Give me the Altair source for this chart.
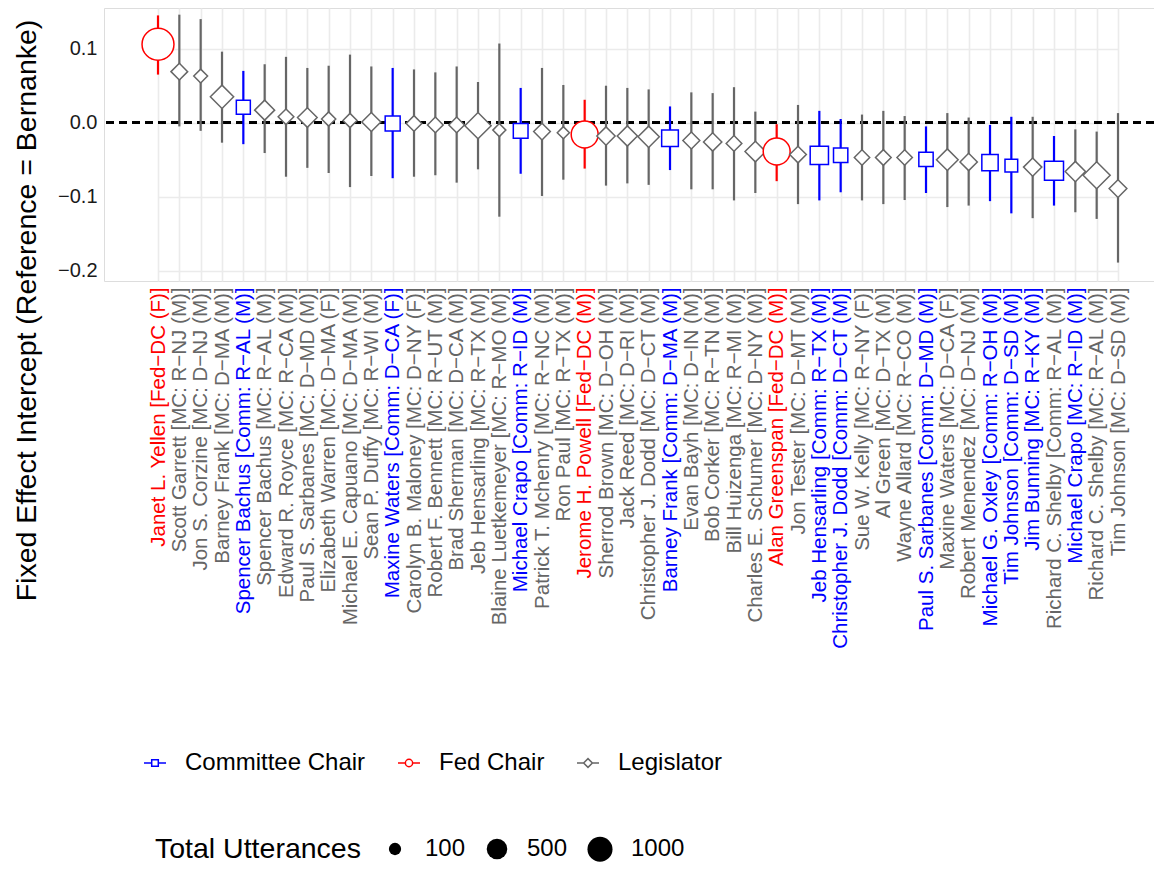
import json
import altair as alt
import pandas as pd

M = "\u2212"

names = [
    f"Janet L. Yellen [Fed{M}DC (F)]",
    f"Scott Garrett [MC: R{M}NJ (M)]",
    f"Jon S. Corzine [MC: D{M}NJ (M)]",
    f"Barney Frank [MC: D{M}MA (M)]",
    f"Spencer Bachus [Comm: R{M}AL (M)]",
    f"Spencer Bachus [MC: R{M}AL (M)]",
    f"Edward R. Royce [MC: R{M}CA (M)]",
    f"Paul S. Sarbanes [MC: D{M}MD (M)]",
    f"Elizabeth Warren [MC: D{M}MA (F)]",
    f"Michael E. Capuano [MC: D{M}MA (M)]",
    f"Sean P. Duffy [MC: R{M}WI (M)]",
    f"Maxine Waters [Comm: D{M}CA (F)]",
    f"Carolyn B. Maloney [MC: D{M}NY (F)]",
    f"Robert F. Bennett [MC: R{M}UT (M)]",
    f"Brad Sherman [MC: D{M}CA (M)]",
    f"Jeb Hensarling [MC: R{M}TX (M)]",
    f"Blaine Luetkemeyer [MC: R{M}MO (M)]",
    f"Michael Crapo [Comm: R{M}ID (M)]",
    f"Patrick T. Mchenry [MC: R{M}NC (M)]",
    f"Ron Paul [MC: R{M}TX (M)]",
    f"Jerome H. Powell [Fed{M}DC (M)]",
    f"Sherrod Brown [MC: D{M}OH (M)]",
    f"Jack Reed [MC: D{M}RI (M)]",
    f"Christopher J. Dodd [MC: D{M}CT (M)]",
    f"Barney Frank [Comm: D{M}MA (M)]",
    f"Evan Bayh [MC: D{M}IN (M)]",
    f"Bob Corker [MC: R{M}TN (M)]",
    f"Bill Huizenga [MC: R{M}MI (M)]",
    f"Charles E. Schumer [MC: D{M}NY (M)]",
    f"Alan Greenspan [Fed{M}DC (M)]",
    f"Jon Tester [MC: D{M}MT (M)]",
    f"Jeb Hensarling [Comm: R{M}TX (M)]",
    f"Christopher J. Dodd [Comm: D{M}CT (M)]",
    f"Sue W. Kelly [MC: R{M}NY (F)]",
    f"Al Green [MC: D{M}TX (M)]",
    f"Wayne Allard [MC: R{M}CO (M)]",
    f"Paul S. Sarbanes [Comm: D{M}MD (M)]",
    f"Maxine Waters [MC: D{M}CA (F)]",
    f"Robert Menendez [MC: D{M}NJ (M)]",
    f"Michael G. Oxley [Comm: R{M}OH (M)]",
    f"Tim Johnson [Comm: D{M}SD (M)]",
    f"Jim Bunning [MC: R{M}KY (M)]",
    f"Richard C. Shelby [Comm: R{M}AL (M)]",
    f"Michael Crapo [MC: R{M}ID (M)]",
    f"Richard C. Shelby [MC: R{M}AL (M)]",
    f"Tim Johnson [MC: D{M}SD (M)]",
]

estimate = [0.106, 0.069, 0.063, 0.035, 0.021, 0.017, 0.008, 0.007, 0.005, 0.003,
            0.001, -0.001, -0.001, -0.003, -0.003, -0.004, -0.010, -0.011, -0.012, -0.0135,
            -0.016, -0.018, -0.018, -0.019, -0.021, -0.024, -0.026, -0.028, -0.039, -0.039,
            -0.043, -0.044, -0.044, -0.047, -0.047, -0.047, -0.0495, -0.050, -0.053, -0.054,
            -0.058, -0.060, -0.065, -0.066, -0.071, -0.089]

lower = [0.065, -0.005, -0.011, -0.027, -0.029, -0.041, -0.073, -0.061, -0.068, -0.087,
         -0.072, -0.075, -0.073, -0.071, -0.081, -0.063, -0.127, -0.069, -0.099, -0.077,
         -0.062, -0.085, -0.082, -0.084, -0.064, -0.090, -0.090, -0.105, -0.095, -0.079,
         -0.110, -0.105, -0.094, -0.105, -0.110, -0.1045, -0.095, -0.114, -0.112, -0.106,
         -0.1225, -0.129, -0.112, -0.121, -0.130, -0.189]

upper = [0.145, 0.146, 0.140, 0.096, 0.070, 0.079, 0.089, 0.074, 0.077, 0.092,
         0.076, 0.074, 0.072, 0.068, 0.076, 0.055, 0.107, 0.047, 0.074, 0.051,
         0.031, 0.050, 0.047, 0.045, 0.022, 0.041, 0.040, 0.048, 0.015, -0.002,
         0.024, 0.016, 0.005, 0.011, 0.016, 0.009, -0.005, 0.013, 0.007, -0.003,
         0.008, 0.008, -0.018, -0.009, -0.012, 0.013]

utterances = [2450, 125, 75, 355, 210, 215, 105, 205, 80, 80,
              185, 260, 105, 105, 105, 535, 65, 245, 125, 55,
              1300, 165, 225, 265, 370, 130, 165, 105, 240, 1300,
              125, 505, 225, 100, 105, 100, 225, 280, 140, 345,
              155, 165, 580, 225, 590, 150]

C, F, L = "Committee Chair", "Fed Chair", "Legislator"

# role of each plotted marker
mark_role = [F, L, L, L, C, L, L, L, L, L,
             L, C, L, L, L, L, L, C, L, L,
             F, L, L, L, C, L, L, L, L, F,
             L, C, C, L, L, L, C, L, L, C,
             C, L, C, L, L, L]

# colour of each axis label (as printed in the reference)
label_role = [F, L, L, L, C, L, L, L, L, L,
              L, C, L, L, L, L, L, C, L, L,
              F, L, L, L, C, L, L, L, L, F,
              L, C, C, L, L, L, C, L, L, C,
              C, C, L, C, L, L]

role_order = [C, F, L]
role_colors = ["#0000FF", "#FF0000", "#666666"]
size_legend_values = [100, 500, 1000]

df = pd.DataFrame({
    "name": names,
    "est": estimate,
    "lo": lower,
    "hi": upper,
    "role": mark_role,
    "utter": utterances,
})

FONT = "Liberation Sans"

blue_labels = [n for n, r in zip(names, label_role) if r == C]
red_labels = [n for n, r in zip(names, label_role) if r == F]
label_color_expr = (
    f"indexof({json.dumps(blue_labels, ensure_ascii=False)}, datum.value) >= 0 ? '#0000FF' : "
    f"(indexof({json.dumps(red_labels, ensure_ascii=False)}, datum.value) >= 0 ? '#FF0000' : '#666666')"
)

square_path = "M-0.886,-0.886L0.886,-0.886L0.886,0.886L-0.886,0.886Z"
diamond_path = "M-1.253,0L0,-1.253L1.253,0L0,1.253Z"

leg_sq = "M-1,0L-0.3,0M0.3,0L1,0M-0.3,-0.3L0.3,-0.3L0.3,0.3L-0.3,0.3Z"
leg_ci = "M-1,0L-0.33,0M0.33,0L1,0M0.33,0A0.33,0.33,0,1,1,-0.33,0A0.33,0.33,0,1,1,0.33,0Z"
leg_di = "M-1,0L-0.4,0M0.4,0L1,0M-0.4,0L0,-0.4L0.4,0L0,0.4Z"

role_legend = alt.Legend(
    title=None, orient="none", legendX=39, legendY=743, direction="horizontal",
    labelFontSize=24, labelFont=FONT, labelColor="black", labelLimit=400,
    symbolSize=484, symbolStrokeWidth=1.5, labelOffset=18, columnPadding=29, padding=0,
)

size_legend = alt.Legend(
    title="Total Utterances", orient="none", legendX=51, legendY=828,
    direction="horizontal", titleOrient="left", titleFont=FONT,
    titleFontSize=28.5, titleFontWeight="normal", titleColor="black",
    titleAnchor="middle", titleBaseline="middle", titlePadding=22, titleLimit=400,
    labelFont=FONT, labelFontSize=24, labelColor="black", labelOffset=18,
    columnPadding=19, values=size_legend_values, format="d", padding=0,
    symbolType="circle", symbolFillColor="black", symbolStrokeWidth=0, symbolOpacity=1,
)

x_enc = alt.X(
    "name:N", sort=names,
    scale=alt.Scale(type="point", padding=0, range=[54, 1014]),
    axis=alt.Axis(
        title=None, labelAngle=-90, labelFontSize=20.5, labelFont=FONT,
        labelColor={"expr": label_color_expr}, labelLimit=600, labelPadding=6,
        labelOverlap=False, ticks=False, domain=False, grid=True,
        gridColor="#EBEBEB", gridWidth=1.6,
    ),
)

y_scale = alt.Scale(domain=[-0.2139, 0.155], nice=False, zero=False)

y_axis = alt.Axis(
    values=[-0.2, -0.1, 0.0, 0.1],
    labelExpr=f"replace(format(datum.value, '.1f'), '-', '{M}')",
    labelFontSize=20, labelFont=FONT, labelColor="#1a1a1a", labelPadding=7,
    ticks=False, domain=False, grid=True, gridColor="#EBEBEB", gridWidth=1.6,
    title="Fixed Effect Intercept (Reference = Bernanke)", titleFont=FONT,
    titleFontSize=28.5, titleFontWeight="normal", titleColor="black",
    titleX=-69, titleY=302, titleAngle=270, titleAlign="center",
    titleBaseline="alphabetic", titleLimit=700,
)

color_scale = alt.Scale(domain=role_order, range=role_colors)


def size_scale():
    return alt.Scale(type="sqrt", domain=[100, 2500], range=[151, 1031], zero=False)


base = alt.Chart(df)

zero_line = base.mark_rule(strokeDash=[8, 5], strokeWidth=1.8, color="black").encode(
    y=alt.datum(0, scale=y_scale, axis=y_axis)
)

bars = base.mark_rule(strokeWidth=2.2).encode(
    x=x_enc,
    y=alt.Y("lo:Q", scale=y_scale, axis=y_axis),
    y2="hi:Q",
    color=alt.Color("role:N", scale=color_scale, legend=None),
)

points = base.mark_point(filled=False, fill="white", fillOpacity=1, strokeWidth=1.5, opacity=1).encode(
    x=x_enc,
    y=alt.Y("est:Q", scale=y_scale, axis=y_axis),
    color=alt.Color("role:N", scale=color_scale, legend=None),
    shape=alt.Shape("role:N", scale=alt.Scale(domain=role_order, range=[square_path, "circle", diamond_path]),
                    legend=None),
    size=alt.Size("utter:Q", scale=size_scale(), legend=None),
)

# legend-only layers (no marks drawn; they only carry the guides)
role_key = base.transform_filter("false").mark_point(
    filled=False, fill="white", strokeWidth=1.5, opacity=1
).encode(
    color=alt.Color("role:N", scale=color_scale, legend=role_legend),
    shape=alt.Shape("role:N", scale=alt.Scale(domain=role_order, range=[leg_sq, leg_ci, leg_di]),
                    legend=role_legend),
)

size_key = base.transform_filter("false").mark_circle(color="black", opacity=1).encode(
    size=alt.Size("utter:Q", scale=size_scale(), legend=size_legend),
)

chart = alt.layer(zero_line, bars, points, role_key, size_key).resolve_scale(
    color="independent", shape="independent", size="independent"
).properties(
    width=1050, height=273,
    autosize=alt.AutoSizeParams(type="none"),
    padding={"left": 96, "top": 0, "right": 0, "bottom": 582},
    background="white",
).configure_view(stroke=None).configure(font=FONT)

chart.save("out.html", embed_options={"renderer": "svg", "actions": False})
